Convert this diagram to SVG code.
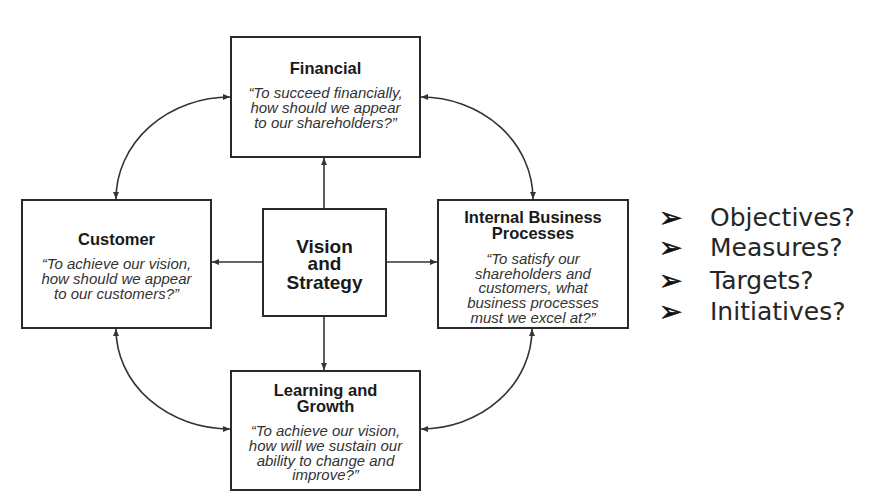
<svg xmlns="http://www.w3.org/2000/svg" width="882" height="499" viewBox="0 0 882 499">
<defs>
<style>
.box{fill:#fff;stroke:#2a2a2a;stroke-width:2}
.t{font-family:"Liberation Sans",Arial,sans-serif;font-weight:bold;font-size:16.5px;fill:#1a1a1a;text-anchor:middle}
.v{font-family:"Liberation Sans",Arial,sans-serif;font-weight:bold;font-size:19px;fill:#1a1a1a;text-anchor:middle}
.q{font-family:"Liberation Sans",Arial,sans-serif;font-style:italic;font-size:15px;fill:#333;text-anchor:middle}
.c{fill:none;stroke:#333;stroke-width:1.6}
.l{font-family:"DejaVu Sans",Verdana,sans-serif;font-size:25px;fill:#262626}
.b{font-family:"DejaVu Sans",sans-serif;font-size:28px;fill:#111;stroke:#111;stroke-width:0.6}
</style>
<marker id="ah" markerUnits="userSpaceOnUse" markerWidth="8" markerHeight="7" refX="7" refY="3" orient="auto-start-reverse">
<path d="M0,0 L7,3 L0,6 z" fill="#333"/>
</marker>
</defs>
<rect width="882" height="499" fill="#fff"/>
<g id="connectors">
<line class="c" x1="324" y1="209" x2="324" y2="158" marker-end="url(#ah)"/>
<line class="c" x1="324" y1="316" x2="324" y2="370" marker-end="url(#ah)"/>
<line class="c" x1="263" y1="262" x2="212" y2="262" marker-end="url(#ah)"/>
<line class="c" x1="386" y1="262" x2="437" y2="262" marker-end="url(#ah)"/>
<path class="c" d="M230,97 A114,102 0 0 0 116,199" marker-start="url(#ah)" marker-end="url(#ah)"/>
<path class="c" d="M421,97 A112,102 0 0 1 533,199" marker-start="url(#ah)" marker-end="url(#ah)"/>
<path class="c" d="M116,329 A114,100 0 0 0 230,429" marker-start="url(#ah)" marker-end="url(#ah)"/>
<path class="c" d="M532,329 A111,100 0 0 1 421,429" marker-start="url(#ah)" marker-end="url(#ah)"/>
</g>
<g id="financial">
<rect class="box" x="231" y="37" width="189" height="120"/>
<text class="t" x="325.5" y="74">Financial</text>
<text class="q" x="325.5" y="98">“To succeed financially,</text>
<text class="q" x="325.5" y="113">how should we appear</text>
<text class="q" x="325.5" y="128">to our shareholders?”</text>
</g>
<g id="customer">
<rect class="box" x="22" y="200" width="189" height="128"/>
<text class="t" x="116.5" y="245">Customer</text>
<text class="q" x="116.5" y="269">“To achieve our vision,</text>
<text class="q" x="116.5" y="284">how should we appear</text>
<text class="q" x="116.5" y="299">to our customers?”</text>
</g>
<g id="vision">
<rect class="box" x="263" y="209" width="123" height="107"/>
<text class="v" x="324.5" y="253">Vision</text>
<text class="v" x="324.5" y="270">and</text>
<text class="v" x="324.5" y="289">Strategy</text>
</g>
<g id="internal">
<rect class="box" x="438" y="200" width="190" height="128"/>
<text class="t" x="533" y="223">Internal Business</text>
<text class="t" x="533" y="239">Processes</text>
<text class="q" x="533" y="264">“To satisfy our</text>
<text class="q" x="533" y="278.5">shareholders and</text>
<text class="q" x="533" y="293">customers, what</text>
<text class="q" x="533" y="308">business processes</text>
<text class="q" x="533" y="323">must we excel at?”</text>
</g>
<g id="learning">
<rect class="box" x="231" y="371" width="189" height="119"/>
<text class="t" x="325.5" y="396">Learning and</text>
<text class="t" x="325.5" y="412">Growth</text>
<text class="q" x="325.5" y="436">“To achieve our vision,</text>
<text class="q" x="325.5" y="451">how will we sustain our</text>
<text class="q" x="325.5" y="466">ability to change and</text>
<text class="q" x="325.5" y="480">improve?”</text>
</g>
<g id="list">
<text class="b" x="659" y="227">➢</text>
<text class="l" x="710" y="226">Objectives?</text>
<text class="b" x="659" y="257">➢</text>
<text class="l" x="710" y="256">Measures?</text>
<text class="b" x="659" y="290">➢</text>
<text class="l" x="710" y="289">Targets?</text>
<text class="b" x="659" y="321">➢</text>
<text class="l" x="710" y="320">Initiatives?</text>
</g>
</svg>
